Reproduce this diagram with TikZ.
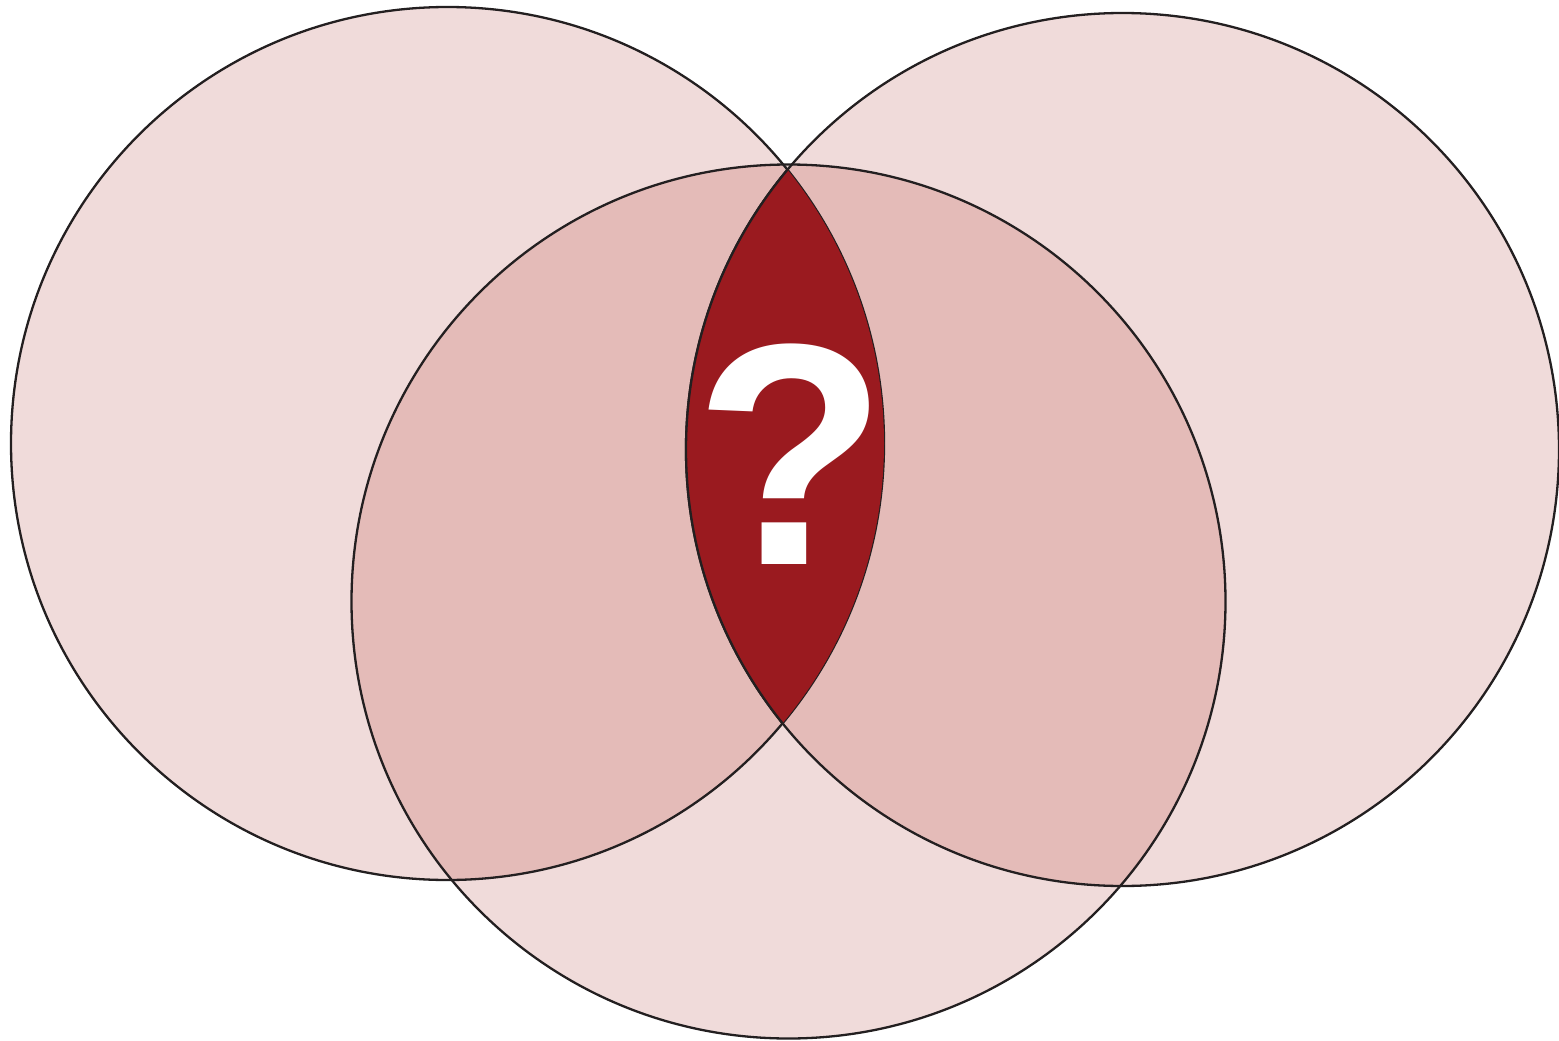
\documentclass[tikz,border=0pt]{standalone}
\usepackage{fontspec}
\setmainfont{Liberation Sans}
\definecolor{lightfill}{HTML}{F0DBDA}
\definecolor{midfill}{HTML}{E4BBB8}
\definecolor{darkfill}{HTML}{9A1A1F}
\definecolor{edge}{HTML}{231F20}
\begin{document}
\begin{tikzpicture}[x=1pt,y=-1pt,
  outline/.style={draw=edge,line width=2.3pt}]
\useasboundingbox (0,0) rectangle (1559,1041);
\def\cL{(447.5,443.5) circle[radius=436.5pt]}
\def\cR{(1122.5,449.5) circle[radius=436.5pt]}
\def\cB{(788.5,601.5) circle[radius=437pt]}
% single fills
\fill[lightfill] \cL;
\fill[lightfill] \cR;
\fill[lightfill] \cB;
% pairwise overlaps
\begin{scope}\clip \cL; \fill[midfill] \cB; \end{scope}
\begin{scope}\clip \cR; \fill[midfill] \cB; \end{scope}
\begin{scope}\clip \cL; \fill[midfill] \cR; \end{scope}
% outlines
\draw[outline] \cL;
\draw[outline] \cR;
\draw[outline] \cB;
% triple overlap
\begin{scope}\clip \cL; \fill[darkfill] \cR; \end{scope}
\begin{scope}\clip \cL; \draw[outline] \cR; \end{scope}
% question mark
\node[text=white,font=\fontsize{316}{316}\selectfont\bfseries,inner sep=0pt] (q) at (791.5,454) {?};
\end{tikzpicture}
\end{document}
